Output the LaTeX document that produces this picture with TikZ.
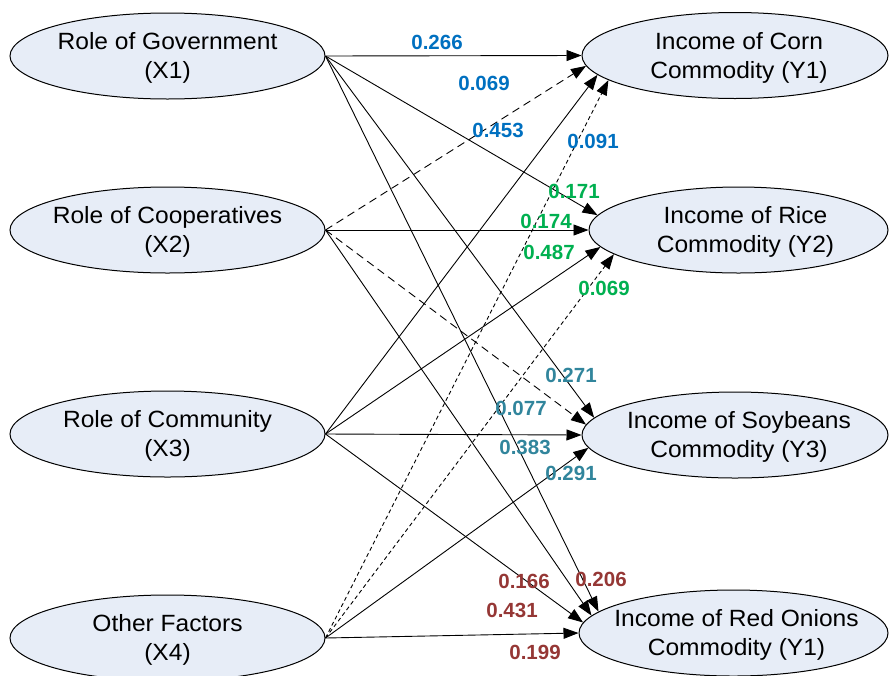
\documentclass[tikz,border=0pt]{standalone}
\usepackage{fontspec}
\setmainfont{Liberation Sans}
\newfontfamily\elfont{Liberation Sans}[FakeStretch=1.045]
\usetikzlibrary{shapes.geometric,arrows.meta}
\definecolor{ellfill}{RGB}{231,237,247}
\definecolor{cYa}{RGB}{0,112,192}
\definecolor{cYb}{RGB}{0,176,80}
\definecolor{cYc}{RGB}{49,133,156}
\definecolor{cYd}{RGB}{149,55,53}
\begin{document}
\begin{tikzpicture}[x=1pt,y=-1pt,
  ell/.style={ellipse, draw=black, line width=1pt, fill=ellfill, inner sep=0pt, minimum height=86pt},
  txt/.style={align=center, font=\elfont\fontsize{23.5}{29}\selectfont, inner sep=0pt, yshift=-2pt},
  lbl/.style={font=\fontsize{20.5}{24}\selectfont\bfseries, inner sep=0pt},
  conn/.style={line width=0.9pt, -{Triangle[length=15pt,width=11pt]}},
  dashA/.style={dash pattern=on 8pt off 5pt},
  dashB/.style={dash pattern=on 4pt off 3pt},
]
\useasboundingbox (0,0) rectangle (890,675);

% left ellipses
\node[ell, minimum width=315pt] (X1) at (167.5,56) {};
\node[ell, minimum width=315pt] (X2) at (167.5,230) {};
\node[ell, minimum width=315pt] (X3) at (167.5,434) {};
\node[ell, minimum width=315pt] (X4) at (167.5,638) {};
% right ellipses
\node[ell, minimum width=306pt] (Y1) at (735,55.5) {};
\node[ell, minimum width=299pt] (Y2) at (738.5,230) {};
\node[ell, minimum width=306pt] (Y3) at (735,435) {};
\node[ell, minimum width=309pt] (Y4) at (733.5,633) {};

\node[txt] (X1t) at (X1.center) {Role of Government\\(X1)};
\node[txt] (X2t) at (X2.center) {Role of Cooperatives\\(X2)};
\node[txt] (X3t) at (X3.center) {Role of Community\\(X3)};
\node[txt] (X4t) at (X4.center) {Other Factors\\(X4)};
\node[txt, xshift=4pt] (Y1t) at (Y1.center) {Income of Corn\\Commodity (Y1)};
\node[txt, xshift=7pt] (Y2t) at (Y2.center) {Income of Rice\\Commodity (Y2)};
\node[txt, xshift=4pt] (Y3t) at (Y3.center) {Income of Soybeans\\Commodity (Y3)};
\node[txt, xshift=3pt] (Y4t) at (Y4.center) {Income of Red Onions\\Commodity (Y1)};

% connectors to Y1
\draw[conn] (X1.east) -- (Y1.180);
\draw[conn,dashA] (X2.east) -- (Y1.184);
\draw[conn] (X3.east) -- (Y1.188);
\draw[conn,dashB] (X4.east) -- (Y1.191);
% connectors to Y2
\draw[conn] (X1.east) -- (Y2.174);
\draw[conn] (X2.east) -- (Y2.180);
\draw[conn] (X3.east) -- (Y2.187);
\draw[conn,dashB] (X4.east) -- (Y2.191);
% connectors to Y3
\draw[conn] (X1.east) -- (Y3.173);
\draw[conn,dashA] (X2.east) -- (Y3.176);
\draw[conn] (X3.east) -- (Y3.180);
\draw[conn] (X4.east) -- (Y3.185);
% connectors to Y4
\draw[conn] (X1.east) -- (Y4.171);
\draw[conn] (X2.east) -- (Y4.173);
\draw[conn] (X3.east) -- (Y4.176);
\draw[conn] (X4.east) -- (Y4.180);

% labels
\node[lbl, text=cYa] (l1) at (437,42) {0.266};
\node[lbl, text=cYa] (l2) at (484,83) {0.069};
\node[lbl, text=cYa] (l3) at (498,130) {0.453};
\node[lbl, text=cYa] (l4) at (593,141) {0.091};
\node[lbl, text=cYb] (l5) at (574,191) {0.171};
\node[lbl, text=cYb] (l6) at (546,221) {0.174};
\node[lbl, text=cYb] (l7) at (549,252) {0.487};
\node[lbl, text=cYb] (l8) at (604,288) {0.069};
\node[lbl, text=cYc] (l9) at (571,375) {0.271};
\node[lbl, text=cYc] (l10) at (521,408) {0.077};
\node[lbl, text=cYc] (l11) at (525,447) {0.383};
\node[lbl, text=cYc] (l12) at (571,473) {0.291};
\node[lbl, text=cYd] (l13) at (524,581) {0.166};
\node[lbl, text=cYd] (l14) at (512,610) {0.431};
\node[lbl, text=cYd] (l15) at (535,652) {0.199};
\node[lbl, text=cYd] (l16) at (601,579) {0.206};
\end{tikzpicture}
\end{document}
